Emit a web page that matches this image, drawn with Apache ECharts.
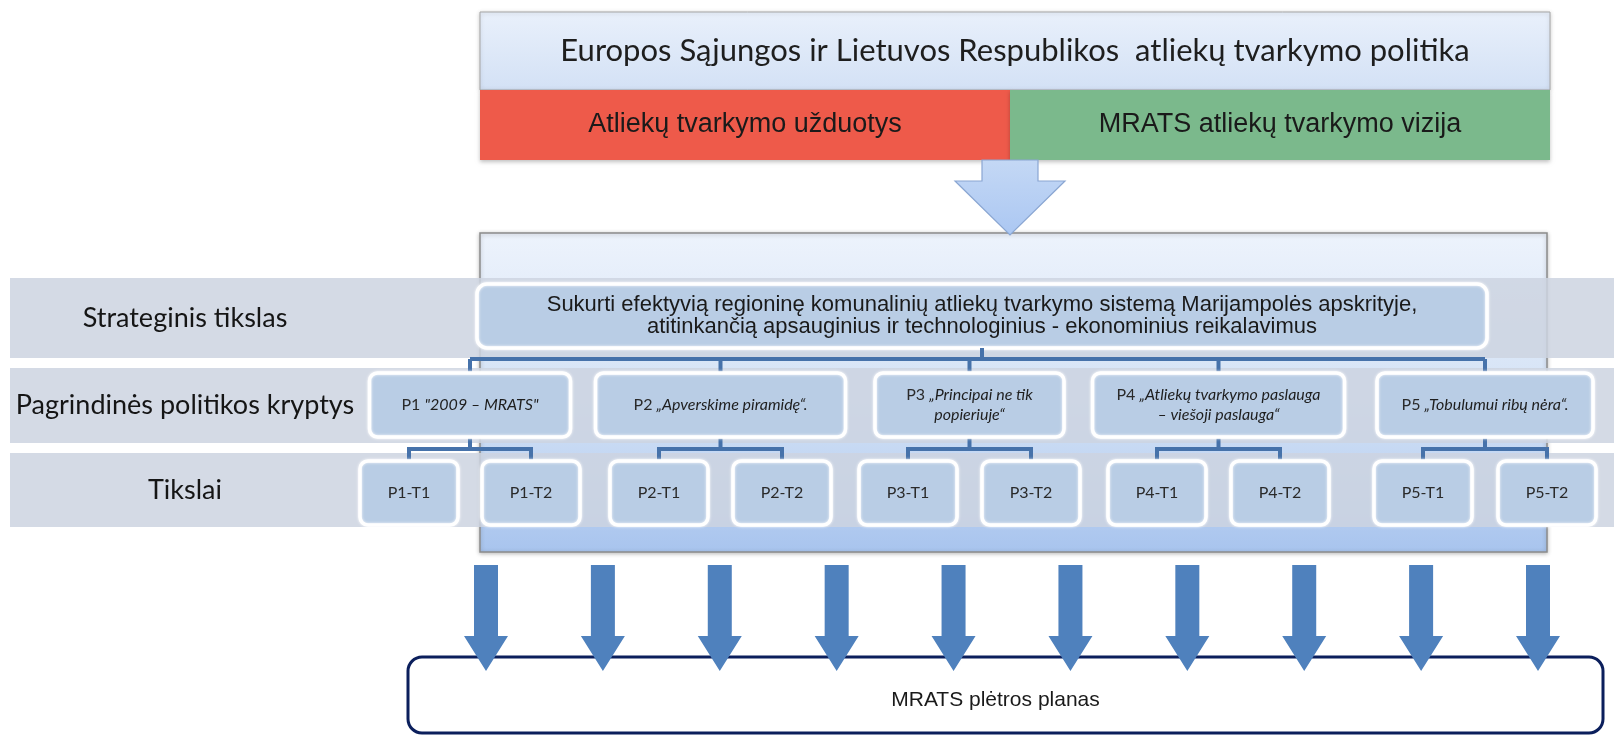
<!DOCTYPE html>
<html>
<head>
<meta charset="utf-8">
<title>MRATS plėtros planas</title>
<script src="https://cdn.jsdelivr.net/npm/echarts@6/dist/echarts.min.js"></script>
<style>
    html, body { margin: 0; padding: 0; background: #fff; }
    #main { width: 1614px; height: 736px; }
</style>
</head>
<body>
<div id="main"></div>
<script>
// tekstai
const policyTitle = 'Europos Sąjungos ir Lietuvos Respublikos  atliekų tvarkymo politika';
const inputNames = ['Atliekų tvarkymo užduotys', 'MRATS atliekų tvarkymo vizija'];
const levelNames = ['Strateginis tikslas', 'Pagrindinės politikos kryptys', 'Tikslai'];
const strategicGoal = [
    'Sukurti efektyvią regioninę komunalinių atliekų tvarkymo sistemą Marijampolės apskrityje,',
    'atitinkančią apsauginius ir technologinius - ekonominius reikalavimus'
];
const policyCodes = ['P1', 'P2', 'P3', 'P4', 'P5'];
const policyNames = [
    '"2009 – MRATS"',
    '„Apverskime piramidę“.',
    '„Principai ne tik\npopieriuje“',
    '„Atliekų tvarkymo paslauga\n– viešoji paslauga“',
    '„Tobulumui ribų nėra“.'
];
const goalNames = ['P1-T1', 'P1-T2', 'P2-T1', 'P2-T2', 'P3-T1', 'P3-T2', 'P4-T1', 'P4-T2', 'P5-T1', 'P5-T2'];
const planName = 'MRATS plėtros planas';

// išdėstymas (pikseliais, ašys 0..1614 x 0..736)
const layout = {
    top: {x0: 480, x1: 1550, y0: 12, yMid: 90, y1: 160, split: 1010},
    funnel: {x: 1010, shaft: 28, head: 55, y0: 160, yHead: 181, y1: 235},
    frame: {x0: 480, x1: 1547, y0: 233, y1: 552},
    bands: [[278, 358], [368, 443], [453, 527]],
    labelX: 185,
    strategic: {x0: 477, x1: 1487, y0: 284, y1: 348},
    busY: 359,
    policyBox: {y0: 373, y1: 437, widths: [201, 250, 189, 252, 216]},
    pairBusY: 449,
    goalCenters: [409, 531, 659, 782, 908, 1031, 1157, 1280, 1423, 1547],
    goalBox: {w: 98, y0: 461, y1: 525},
    arrows: {left: 486, right: 76, shaft: 12, head: 22, y0: 565, yHead: 636, y1: 671},
    plan: {x0: 408, x1: 1603, y0: 657, y1: 733}
};

const chartDom = document.getElementById('main');
const myChart = echarts.init(chartDom, null, {renderer: 'canvas'});

// stačiakampiai su tekstu
const boxes = (items, look, z) => ({
    type: 'custom',
    coordinateSystem: 'cartesian2d',
    silent: true,
    animation: false,
    z: z,
    data: items.map(it => it.value),
    renderItem: (params, api) => {
        const it = items[params.dataIndex];
        const a = api.coord([api.value(0), api.value(1)]);
        const b = api.coord([api.value(2), api.value(3)]);
        const el = {
            type: 'rect',
            shape: {x: a[0], y: a[1], width: b[0] - a[0], height: b[1] - a[1], r: look.r || 0},
            style: Object.assign({}, look.style, it.style || {})
        };
        if (it.text != null) {
            el.textContent = {
                style: Object.assign({text: it.text, align: 'center', verticalAlign: 'middle'}, look.text, it.textStyle || {})
            };
            el.textConfig = Object.assign({position: 'inside'}, look.textConfig || {});
        }
        return el;
    }
});

// linijos
const lines = (paths, look, z) => ({
    type: 'custom',
    coordinateSystem: 'cartesian2d',
    silent: true,
    animation: false,
    z: z,
    data: paths.map((p, i) => [i]),
    renderItem: (params, api) => ({
        type: 'polyline',
        shape: {points: paths[params.dataIndex].map(pt => api.coord(pt))},
        style: Object.assign({fill: null}, look)
    })
});

const L = layout;
const t = L.top;

const topItems = [{
    value: [t.x0, t.y0, t.x1, t.yMid],
    text: policyTitle,
    style: {
        fill: new echarts.graphic.LinearGradient(0, 0, 0, 1, [
            {offset: 0, color: '#e9f0fb'}, {offset: 1, color: '#d3e1f5'}
        ])
    }
}];
const inputItems = inputNames.map((name, i) => ({
    value: i === 0 ? [t.x0, t.yMid, t.split, t.y1] : [t.split, t.yMid, t.x1, t.y1],
    text: name,
    style: {fill: i === 0 ? '#ee5a4a' : '#7bb98c'}
}));

const fr = L.frame;
const frameItems = [{value: [fr.x0, fr.y0, fr.x1, fr.y1]}];
const bandItems = L.bands.map(b => ({value: [10, b[0], 1614, b[1]]}));
const labelItems = levelNames.map((name, i) => ({
    value: [L.labelX - 150, L.bands[i][0], L.labelX + 150, L.bands[i][1]],
    text: name
}));

const s = L.strategic;
const strategicItems = [{value: [s.x0, s.y0, s.x1, s.y1], text: strategicGoal.join('\n')}];

const policyCenters = policyCodes.map((c, i) => (L.goalCenters[2 * i] + L.goalCenters[2 * i + 1]) / 2);
const policyItems = policyCodes.map((code, i) => {
    const w = L.policyBox.widths[i];
    const parts = policyNames[i].split('\n');
    const rich = '{n|' + code + ' }' + parts.map(p => '{i|' + p + '}').join('\n');
    return {
        value: [policyCenters[i] - w / 2, L.policyBox.y0, policyCenters[i] + w / 2, L.policyBox.y1],
        text: rich
    };
});
const goalItems = goalNames.map((name, i) => ({
    value: [L.goalCenters[i] - L.goalBox.w / 2, L.goalBox.y0, L.goalCenters[i] + L.goalBox.w / 2, L.goalBox.y1],
    text: name
}));

const p = L.plan;
const planItems = [{value: [p.x0, p.y0, p.x1, p.y1], text: planName}];

// jungtys
const connectorPaths = [
    [[(s.x0 + s.x1) / 2, s.y1], [(s.x0 + s.x1) / 2, L.busY]],
    [[policyCenters[0], L.busY], [policyCenters[4], L.busY]]
];
policyCenters.forEach((c, i) => {
    connectorPaths.push([[c, L.busY], [c, L.policyBox.y0]]);
    connectorPaths.push([[c, L.policyBox.y1], [c, L.pairBusY]]);
    connectorPaths.push([
        [L.goalCenters[2 * i], L.goalBox.y0],
        [L.goalCenters[2 * i], L.pairBusY],
        [L.goalCenters[2 * i + 1], L.pairBusY],
        [L.goalCenters[2 * i + 1], L.goalBox.y0]
    ]);
});

const innerBox = {
    r: 8,
    style: {fill: '#b9cde5', stroke: '#ffffff', lineWidth: 3.5, shadowBlur: 3, shadowColor: 'rgba(255,255,255,0.9)'},
    text: {fontFamily: 'Lato', fontSize: 16, fill: '#2a2a2a'}
};

const f = L.funnel;
const a = L.arrows;

const option = {
    backgroundColor: '#ffffff',
    animation: false,
    grid: [
        {left: 0, right: 0, top: 0, bottom: 0},
        {left: a.left, right: a.right, top: 0, bottom: 0}
    ],
    xAxis: [
        {type: 'value', min: 0, max: 1614, show: false, gridIndex: 0},
        {type: 'category', data: goalNames, boundaryGap: false, show: false, gridIndex: 1}
    ],
    yAxis: [
        {type: 'value', min: 0, max: 736, inverse: true, show: false, gridIndex: 0},
        {type: 'value', min: 0, max: 736, inverse: true, show: false, gridIndex: 1}
    ],
    series: [
        boxes(frameItems, {
            style: {
                fill: new echarts.graphic.LinearGradient(0, 0, 0, 1, [
                    {offset: 0, color: '#edf3fc'},
                    {offset: 0.55, color: '#d2e1f5'},
                    {offset: 1, color: '#a8c4ee'}
                ]),
                stroke: '#8c8c8c', lineWidth: 1.5,
                shadowBlur: 4, shadowColor: 'rgba(0,0,0,0.25)', shadowOffsetY: 1
            }
        }, 1),
        boxes(bandItems, {style: {fill: 'rgba(204,211,225,0.85)'}}, 2),
        boxes(labelItems, {
            style: {fill: 'rgba(0,0,0,0)'},
            text: {fontFamily: 'Lato', fontSize: 27, fill: '#151515'}
        }, 3),
        boxes(topItems, {
            style: {stroke: '#a6a6a6', lineWidth: 1, shadowBlur: 4, shadowColor: 'rgba(0,0,0,0.2)', shadowOffsetY: 1},
            text: {fontFamily: 'Lato', fontSize: 31, fill: '#1e1e1e'}
        }, 3),
        boxes(inputItems, {
            style: {shadowBlur: 4, shadowColor: 'rgba(0,0,0,0.25)', shadowOffsetY: 2},
            text: {fontFamily: 'Liberation Sans', fontSize: 27, fill: '#1a1a1a'}
        }, 4),
        {
            type: 'custom',
            coordinateSystem: 'cartesian2d',
            silent: true,
            animation: false,
            z: 5,
            data: [[f.x, f.y0, f.yHead, f.y1]],
            renderItem: (params, api) => {
                const x = api.value(0);
                const pts = [
                    [x - f.shaft, api.value(1)], [x + f.shaft, api.value(1)], [x + f.shaft, api.value(2)],
                    [x + f.head, api.value(2)], [x, api.value(3)], [x - f.head, api.value(2)], [x - f.shaft, api.value(2)]
                ].map(pt => api.coord(pt));
                return {
                    type: 'polygon',
                    shape: {points: pts},
                    style: {
                        fill: new echarts.graphic.LinearGradient(0, 0, 0, 1, [
                            {offset: 0, color: '#c4d8f5'}, {offset: 1, color: '#abc7f2'}
                        ]),
                        stroke: '#8aa6d2', lineWidth: 1.2
                    }
                };
            }
        },
        boxes(strategicItems, {
            r: 10,
            style: innerBox.style,
            text: {fontFamily: 'Liberation Sans', fontSize: 22, lineHeight: 22, fill: '#1a1a1a'}
        }, 6),
        lines(connectorPaths, {stroke: '#4672aa', lineWidth: 4}, 6),
        boxes(policyItems, {
            r: 8,
            style: innerBox.style,
            text: {
                rich: {
                    n: {fontFamily: 'Lato', fontSize: 16, fill: '#2a2a2a', lineHeight: 20},
                    i: {fontFamily: 'Lato', fontStyle: 'italic', fontSize: 16, fill: '#1e1e1e', lineHeight: 20}
                }
            }
        }, 7),
        boxes(goalItems, innerBox, 7),
        boxes(planItems, {
            r: 14,
            style: {fill: 'rgba(255,255,255,0)', stroke: '#0b1f5c', lineWidth: 3},
            text: {fontFamily: 'Liberation Sans', fontSize: 21, fill: '#1a1a1a'},
            textConfig: {offset: [-10, 5]}
        }, 8),
        {
            type: 'custom',
            coordinateSystem: 'cartesian2d',
            xAxisIndex: 1,
            yAxisIndex: 1,
            silent: true,
            animation: false,
            z: 9,
            data: goalNames.map(name => [name, a.y0, a.yHead, a.y1]),
            renderItem: (params, api) => {
                const top = api.coord([api.value(0), api.value(1)]);
                const mid = api.coord([api.value(0), api.value(2)]);
                const tip = api.coord([api.value(0), api.value(3)]);
                const x = top[0];
                return {
                    type: 'polygon',
                    shape: {
                        points: [
                            [x - a.shaft, top[1]], [x + a.shaft, top[1]], [x + a.shaft, mid[1]],
                            [x + a.head, mid[1]], [x, tip[1]], [x - a.head, mid[1]], [x - a.shaft, mid[1]]
                        ]
                    },
                    style: {fill: '#4f81bd'}
                };
            }
        }
    ]
};

option && myChart.setOption(option);
</script>
</body>
</html>
